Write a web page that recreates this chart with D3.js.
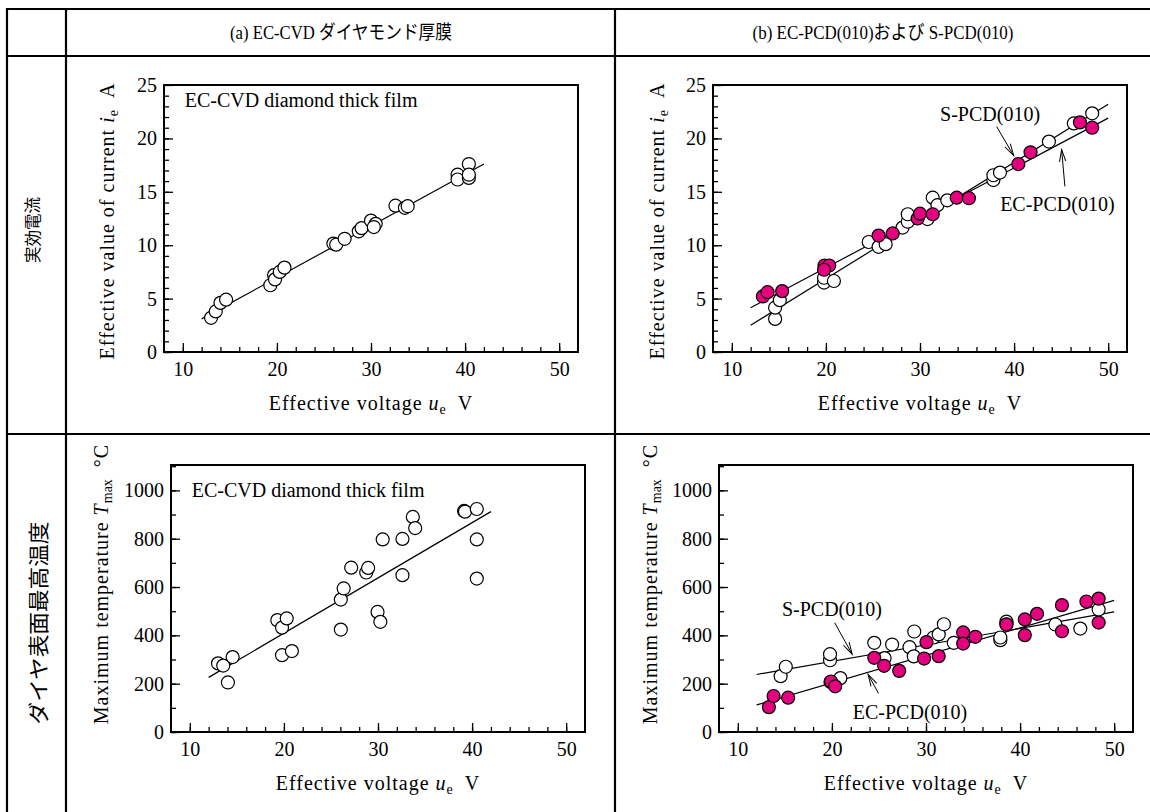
<!DOCTYPE html>
<html>
<head>
<meta charset="utf-8">
<style>
  body { margin: 0; background: #fff; }
  text { font-family: "Liberation Serif", "Times New Roman", serif; fill: #000; }
  .jp { font-family: "Liberation Serif", "Noto Sans CJK JP", sans-serif; }
  .row { font-family: "Noto Sans CJK JP", sans-serif; fill: #000; }
  .grid { stroke: #000; stroke-width: 2.2px; fill: none; }
  .frame { fill: none; stroke: #000; stroke-width: 2px; }
  .fit { fill: none; stroke: #000; stroke-width: 1.2px; }
  .arrow { fill: none; stroke: #000; stroke-width: 1px; }
  .axis text { font-size: 20px; font-family: "Liberation Serif", serif; }
  .axis line { stroke: #000; stroke-width: 1.3px; }
  .axis path { display: none; }
  .title { font-size: 20px; letter-spacing: 1px; }
</style>
</head>
<body>
<svg width="1150" height="812"></svg>
<script src="https://d3js.org/d3.v7.min.js"></script>
<script>

// ---- data ----
var xMajor = [10, 20, 30, 40, 50];
var yMajorCurrent = [0, 5, 10, 15, 20, 25];
var yMajorTemp = [0, 200, 400, 600, 800, 1000];

// (a) EC-CVD diamond thick film, current  [u_e, i_e]
var cvdCurrent = [
  [13.0, 3.2], [13.5, 3.8], [14.0, 4.6], [14.6, 4.9],
  [19.3, 6.25], [19.7, 7.2], [19.8, 6.8], [20.3, 7.5], [20.8, 7.9],
  [26.0, 10.15], [26.3, 10.05], [27.2, 10.6], [28.7, 11.3], [29.0, 11.6],
  [30.0, 12.3], [30.5, 12.0], [30.3, 11.7], [32.6, 13.7], [33.6, 13.5], [33.9, 13.65],
  [39.2, 16.6], [39.2, 16.15], [40.4, 17.6], [40.4, 16.3], [40.4, 16.6]
];
var cvdCurrentFit = [[12, 3.1], [42, 17.6]];

// (b) current, S-PCD(010) open / EC-PCD(010) filled
var spcdCurrent = [
  [14.6, 3.1], [14.6, 4.15], [15.1, 4.85], [19.8, 6.5], [19.8, 6.95], [20.85, 6.65],
  [24.55, 10.3], [25.6, 9.85], [26.35, 10.1], [28.15, 11.65], [28.7, 12.2], [28.7, 12.9],
  [30.8, 12.45], [31.35, 14.45], [31.85, 13.75], [32.9, 14.2],
  [37.8, 16.1], [37.8, 16.55], [38.5, 16.8], [43.7, 19.7], [46.35, 21.4], [48.3, 22.35]
];
var ecpcdCurrent = [
  [13.3, 5.2], [13.8, 5.6], [15.35, 5.7], [19.85, 8.1], [20.35, 8.1], [19.8, 7.7],
  [25.6, 10.9], [27.1, 11.1], [29.75, 12.5], [30.0, 12.95], [31.35, 12.9],
  [33.9, 14.45], [35.2, 14.4], [40.45, 17.6], [41.75, 18.7], [47.0, 21.5], [48.3, 21.0]
];
var spcdCurrentFit = [[12, 2.5], [50, 23.2]];
var ecpcdCurrentFit = [[12, 4.15], [50, 21.9]];

// (a) maximum temperature  [u_e, T_max]
var cvdTemp = [
  [13.0, 284], [13.55, 275], [14.05, 205], [14.55, 310],
  [19.3, 463], [19.8, 432], [20.3, 470], [19.8, 318], [20.85, 335],
  [26.05, 548], [26.35, 594], [26.05, 424], [27.15, 680], [28.75, 660], [28.95, 679],
  [29.95, 497], [30.25, 456], [30.5, 797], [32.6, 799], [32.6, 649],
  [33.7, 890], [33.95, 844], [39.15, 915], [39.25, 912], [40.5, 923], [40.5, 797], [40.5, 635]
];
var cvdTempFit = [[12, 226], [42, 912]];

// (b) maximum temperature
var spcdTemp = [
  [14.55, 231], [15.1, 270], [19.8, 297], [19.8, 322], [20.9, 223],
  [24.5, 369], [25.6, 306], [26.4, 362], [28.25, 351], [28.75, 416], [28.7, 313],
  [30.8, 391], [31.35, 404], [31.9, 446], [32.95, 369],
  [37.9, 380], [37.9, 391], [38.55, 457], [38.55, 446],
  [43.75, 445], [46.4, 428], [48.35, 507]
];
var ecpcdTemp = [
  [13.3, 103], [13.8, 149], [15.35, 142], [19.85, 207], [19.9, 209], [20.35, 189],
  [24.5, 307], [25.55, 274], [27.15, 253], [30.05, 372], [29.8, 304], [31.35, 314],
  [33.95, 412], [33.95, 366], [35.25, 394], [38.55, 445],
  [40.5, 466], [40.5, 401], [41.8, 489], [44.45, 525], [44.45, 417],
  [47.05, 540], [48.35, 552], [48.35, 453]
];
var spcdTempFit = [[12, 238], [50, 497]];
var ecpcdTempFit = [[12, 112], [50, 545]];

// ---- layout ----
var svg = d3.select("svg");
var magenta = "#e4007f";
var W = 414, H = 267;

svg.append("defs").append("marker")
    .attr("id", "head")
    .attr("viewBox", "-12 -5 14 10")
    .attr("refX", 0).attr("refY", 0)
    .attr("markerWidth", 14).attr("markerHeight", 10)
    .attr("markerUnits", "userSpaceOnUse")
    .attr("orient", "auto")
  .append("path")
    .attr("d", "M-12,-3.2L0,0L-12,3.2")
    .attr("class", "arrow");

// table grid
var grid = svg.append("g");
grid.append("path").attr("class", "grid")
    .attr("d", "M1152,9H7V814");
grid.append("path").attr("class", "grid").attr("d", "M7,56H1152");
grid.append("path").attr("class", "grid").attr("d", "M7,434H1152");
grid.append("path").attr("class", "grid").attr("d", "M66,9V814");
grid.append("path").attr("class", "grid").attr("d", "M615,9V814");

svg.append("text").attr("class", "jp")
    .attr("x", 341).attr("y", 39).attr("text-anchor", "middle")
    .attr("textLength", 222).attr("lengthAdjust", "spacingAndGlyphs")
    .style("font-size", "19px")
    .text("(a) EC-CVD ダイヤモンド厚膜");
svg.append("text").attr("class", "jp")
    .attr("x", 883).attr("y", 39).attr("text-anchor", "middle")
    .attr("textLength", 261).attr("lengthAdjust", "spacingAndGlyphs")
    .style("font-size", "19px")
    .text("(b) EC-PCD(010)および S-PCD(010)");

svg.append("text").attr("class", "row")
    .attr("transform", "translate(39,230) rotate(-90)")
    .attr("text-anchor", "middle")
    .style("font-size", "16.5px")
    .text("実効電流");
svg.append("text").attr("class", "row")
    .attr("transform", "translate(46,623) rotate(-90)")
    .attr("text-anchor", "middle")
    .attr("textLength", 203).attr("lengthAdjust", "spacingAndGlyphs")
    .style("font-size", "21px")
    .text("ダイヤ表面最高温度");

function panel(opt) {
  var g = svg.append("g").attr("transform", "translate(" + opt.left + "," + opt.top + ")");
  var x = d3.scaleLinear().domain([8, 52]).range([0, W]);
  var y = d3.scaleLinear().domain(opt.yDomain).range([H, 0]);

  // minor ticks
  g.append("g").attr("class", "axis").attr("transform", "translate(0," + H + ")")
      .call(d3.axisBottom(x).tickValues(d3.range(10, 51, 2)).tickSize(-5).tickFormat(""));
  g.append("g").attr("class", "axis")
      .call(d3.axisLeft(y).tickValues(d3.range(0, opt.yDomain[1], opt.yMinor)).tickSize(-5).tickFormat(""));
  // major ticks
  g.append("g").attr("class", "axis").attr("transform", "translate(0," + H + ")")
      .call(d3.axisBottom(x).tickValues(xMajor).tickSize(-9).tickPadding(10).tickFormat(d3.format("d")));
  g.append("g").attr("class", "axis")
      .call(d3.axisLeft(y).tickValues(opt.yMajor).tickSize(-9).tickPadding(7).tickFormat(d3.format("d")));

  g.append("rect").attr("class", "frame").attr("width", W).attr("height", H);

  var line = d3.line().x(function(d) { return x(d[0]); }).y(function(d) { return y(d[1]); });
  opt.fits.forEach(function(f) {
    g.append("path").datum(f).attr("class", "fit").attr("d", line);
  });

  opt.series.forEach(function(s) {
    g.append("g").selectAll("circle").data(s.data).join("circle")
        .attr("cx", function(d) { return x(d[0]); })
        .attr("cy", function(d) { return y(d[1]); })
        .attr("r", 6.5)
        .attr("fill", s.fill)
        .attr("stroke", "#000")
        .attr("stroke-width", 1.2);
  });

  (opt.notes || []).forEach(function(n) {
    g.append("text").attr("x", x(n.at[0])).attr("y", y(n.at[1]))
        .attr("text-anchor", n.anchor || "middle").attr("dy", "0.35em")
        .style("font-size", "20px").text(n.text);
    if (n.from) {
      g.append("line").attr("class", "arrow")
          .attr("x1", x(n.from[0])).attr("y1", y(n.from[1]))
          .attr("x2", x(n.to[0])).attr("y2", y(n.to[1]))
          .attr("marker-end", "url(#head)");
    }
  });

  // x label
  var xl = g.append("text").attr("class", "title").attr("x", W / 2).attr("y", H + 58)
      .attr("text-anchor", "middle");
  xl.append("tspan").text("Effective voltage ");
  xl.append("tspan").style("font-style", "italic").text("u");
  xl.append("tspan").attr("dy", 4).style("font-size", "14px").style("letter-spacing", "0").text("e");
  xl.append("tspan").attr("dy", -4).text("\u00a0\u00a0V");

  // y label
  var yl = g.append("text").attr("class", "title")
      .attr("transform", "translate(" + opt.yLabelX + "," + opt.yLabelY + ") rotate(-90)")
      .attr("text-anchor", "middle").attr("dy", "0.35em");
  yl.append("tspan").text(opt.yLabel[0]);
  yl.append("tspan").style("font-style", "italic").text(opt.yLabel[1]);
  yl.append("tspan").attr("dy", 4).style("font-size", "14px").style("letter-spacing", "0").text(opt.yLabel[2]);
  yl.append("tspan").attr("dy", -4).text(opt.yLabel[3]);
}

panel({
  left: 164, top: 85, yDomain: [0, 25], yMajor: yMajorCurrent, yMinor: 1,
  yLabel: ["Effective value of current ", "i", "e", "\u00a0\u00a0A"], yLabelX: -57, yLabelY: 136,
  fits: [cvdCurrentFit],
  series: [{ data: cvdCurrent, fill: "#fff" }],
  notes: [{ text: "EC-CVD diamond thick film", at: [10.2, 23.6], anchor: "start" }]
});
panel({
  left: 713, top: 85, yDomain: [0, 25], yMajor: yMajorCurrent, yMinor: 1,
  yLabel: ["Effective value of current ", "i", "e", "\u00a0\u00a0A"], yLabelX: -56, yLabelY: 136,
  fits: [spcdCurrentFit, ecpcdCurrentFit],
  series: [{ data: spcdCurrent, fill: "#fff" }, { data: ecpcdCurrent, fill: magenta }],
  notes: [
    { text: "S-PCD(010)", at: [37.45, 22.3], from: [38.15, 21.1], to: [39.95, 18.4] },
    { text: "EC-PCD(010)", at: [44.6, 13.9], from: [45.4, 15.5], to: [45.05, 18.95] }
  ]
});
panel({
  left: 171, top: 465, yDomain: [0, 1105], yMajor: yMajorTemp, yMinor: 100,
  yLabel: ["Maximum temperature ", "T", "max", "\u00a0\u00a0\u00b0C"], yLabelX: -70, yLabelY: 119,
  fits: [cvdTempFit],
  series: [{ data: cvdTemp, fill: "#fff" }],
  notes: [{ text: "EC-CVD diamond thick film", at: [10.2, 1000], anchor: "start" }]
});
panel({
  left: 719, top: 465, yDomain: [0, 1105], yMajor: yMajorTemp, yMinor: 100,
  yLabel: ["Maximum temperature ", "T", "max", "\u00a0\u00a0\u00b0C"], yLabelX: -69, yLabelY: 119,
  fits: [spcdTempFit, ecpcdTempFit],
  series: [{ data: spcdTemp, fill: "#fff" }, { data: ecpcdTemp, fill: magenta }],
  notes: [
    { text: "S-PCD(010)", at: [20.0, 511], from: [20.3, 452], to: [22.15, 322] },
    { text: "EC-PCD(010)", at: [28.3, 84], from: [24.95, 160], to: [23.85, 238] }
  ]
});

</script>
</body>
</html>
